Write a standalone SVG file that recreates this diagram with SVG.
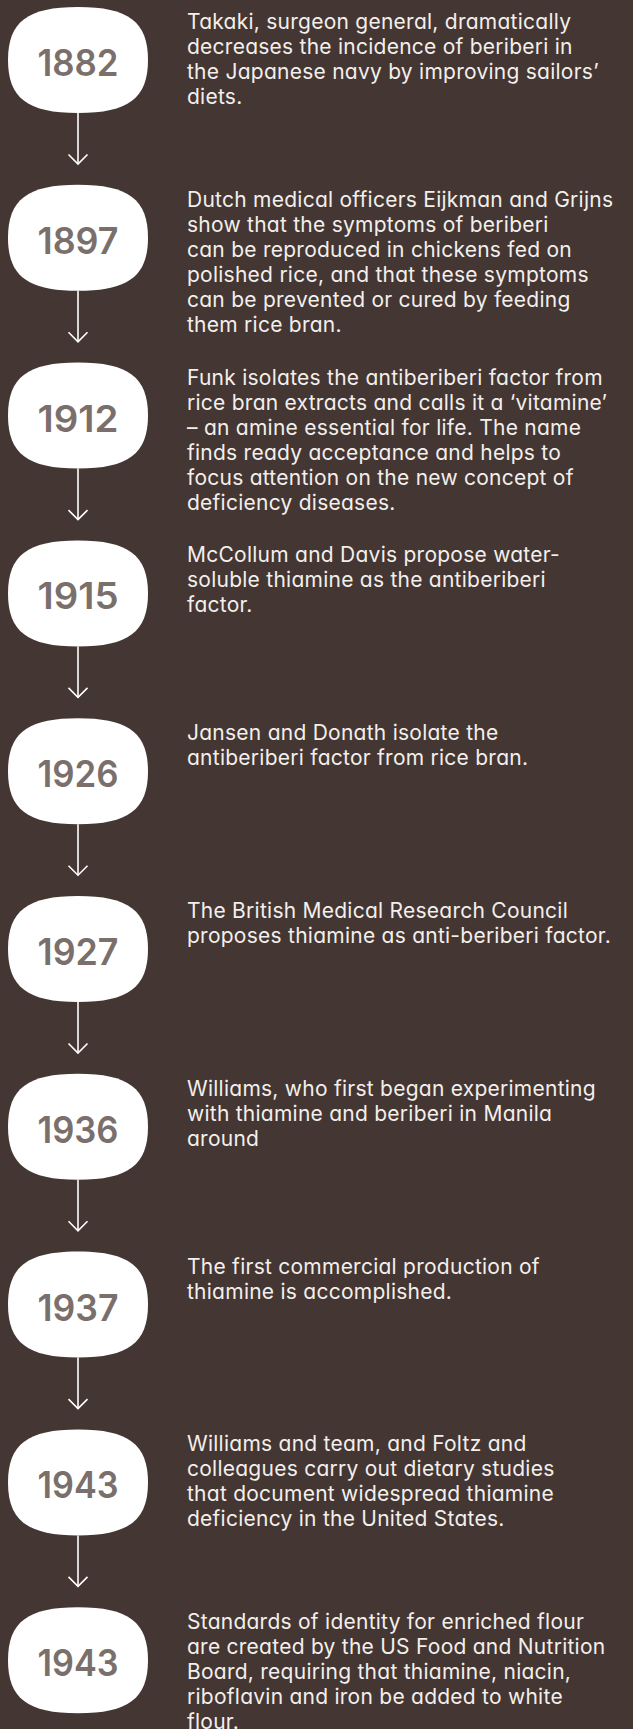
<svg xmlns="http://www.w3.org/2000/svg" width="633" height="1729" viewBox="0 0 633 1729">
<defs>
<style>
.bg{fill:#443632}
.node{fill:#ffffff}
.year{font-family:Inter,"Liberation Sans",sans-serif;font-weight:600;font-size:37px;fill:#7b6f6c;text-anchor:middle}
.body{font-family:Inter,"Liberation Sans",sans-serif;font-size:21px;letter-spacing:0.25px;fill:#f3efec;font-feature-settings:"cv11" 1}
.conn{stroke:#ffffff;stroke-width:1.6;fill:none}
</style>
<path id="sq" d="M78 0C128.4 0 148 14.8 148 53C148 91.2 128.4 106 78 106C27.6 106 8 91.2 8 53C8 14.8 27.6 0 78 0Z"/>
<marker id="ah" viewBox="-12 -12 14 24" markerWidth="14" markerHeight="24" refX="0" refY="0" markerUnits="userSpaceOnUse" orient="auto" overflow="visible">
<path d="M-9.5 -9.5L0 0L-9.5 9.5" stroke="#ffffff" stroke-width="1.6" fill="none"/>
</marker>
</defs>
<rect class="bg" x="0" y="0" width="633" height="1729"/>
<g id="connectors">
<line class="conn" x1="78" y1="113" x2="78" y2="164" marker-end="url(#ah)"/>
<line class="conn" x1="78" y1="290.8" x2="78" y2="341.8" marker-end="url(#ah)"/>
<line class="conn" x1="78" y1="468.6" x2="78" y2="519.6" marker-end="url(#ah)"/>
<line class="conn" x1="78" y1="646.4" x2="78" y2="697.4" marker-end="url(#ah)"/>
<line class="conn" x1="78" y1="824.2" x2="78" y2="875.2" marker-end="url(#ah)"/>
<line class="conn" x1="78" y1="1002" x2="78" y2="1053" marker-end="url(#ah)"/>
<line class="conn" x1="78" y1="1179.8" x2="78" y2="1230.8" marker-end="url(#ah)"/>
<line class="conn" x1="78" y1="1357.6" x2="78" y2="1408.6" marker-end="url(#ah)"/>
<line class="conn" x1="78" y1="1535.4" x2="78" y2="1586.4" marker-end="url(#ah)"/>
</g>
<g id="n1882" transform="translate(0,7)">
<use href="#sq" class="node"/>
<text class="year" x="78" y="69" textLength="81" lengthAdjust="spacingAndGlyphs">1882</text>
<text class="body" x="187" y="22"><tspan x="187">Takaki, surgeon general, dramatically</tspan><tspan x="187" dy="25">decreases the incidence of beriberi in</tspan><tspan x="187" dy="25">the Japanese navy by improving sailors’</tspan><tspan x="187" dy="25">diets.</tspan></text>
</g>
<g id="n1897" transform="translate(0,184.8)">
<use href="#sq" class="node"/>
<text class="year" x="78" y="69" textLength="81" lengthAdjust="spacingAndGlyphs">1897</text>
<text class="body" x="187" y="22"><tspan x="187">Dutch medical officers Eijkman and Grijns</tspan><tspan x="187" dy="25">show that the symptoms of beriberi</tspan><tspan x="187" dy="25">can be reproduced in chickens fed on</tspan><tspan x="187" dy="25">polished rice, and that these symptoms</tspan><tspan x="187" dy="25">can be prevented or cured by feeding</tspan><tspan x="187" dy="25">them rice bran.</tspan></text>
</g>
<g id="n1912" transform="translate(0,362.6)">
<use href="#sq" class="node"/>
<text class="year" x="78" y="69" textLength="81" lengthAdjust="spacingAndGlyphs">1912</text>
<text class="body" x="187" y="22"><tspan x="187">Funk isolates the antiberiberi factor from</tspan><tspan x="187" dy="25">rice bran extracts and calls it a ‘vitamine’</tspan><tspan x="187" dy="25">– an amine essential for life. The name</tspan><tspan x="187" dy="25">finds ready acceptance and helps to</tspan><tspan x="187" dy="25">focus attention on the new concept of</tspan><tspan x="187" dy="25">deficiency diseases.</tspan></text>
</g>
<g id="n1915" transform="translate(0,540.4)">
<use href="#sq" class="node"/>
<text class="year" x="78" y="69" textLength="81" lengthAdjust="spacingAndGlyphs">1915</text>
<text class="body" x="187" y="22"><tspan x="187">McCollum and Davis propose water-</tspan><tspan x="187" dy="25">soluble thiamine as the antiberiberi</tspan><tspan x="187" dy="25">factor.</tspan></text>
</g>
<g id="n1926" transform="translate(0,718.2)">
<use href="#sq" class="node"/>
<text class="year" x="78" y="69" textLength="81" lengthAdjust="spacingAndGlyphs">1926</text>
<text class="body" x="187" y="22"><tspan x="187">Jansen and Donath isolate the</tspan><tspan x="187" dy="25">antiberiberi factor from rice bran.</tspan></text>
</g>
<g id="n1927" transform="translate(0,896)">
<use href="#sq" class="node"/>
<text class="year" x="78" y="69" textLength="81" lengthAdjust="spacingAndGlyphs">1927</text>
<text class="body" x="187" y="22"><tspan x="187">The British Medical Research Council</tspan><tspan x="187" dy="25">proposes thiamine as anti-beriberi factor.</tspan></text>
</g>
<g id="n1936" transform="translate(0,1073.8)">
<use href="#sq" class="node"/>
<text class="year" x="78" y="69" textLength="81" lengthAdjust="spacingAndGlyphs">1936</text>
<text class="body" x="187" y="22"><tspan x="187">Williams, who first began experimenting</tspan><tspan x="187" dy="25">with thiamine and beriberi in Manila</tspan><tspan x="187" dy="25">around</tspan></text>
</g>
<g id="n1937" transform="translate(0,1251.6)">
<use href="#sq" class="node"/>
<text class="year" x="78" y="69" textLength="81" lengthAdjust="spacingAndGlyphs">1937</text>
<text class="body" x="187" y="22"><tspan x="187">The first commercial production of</tspan><tspan x="187" dy="25">thiamine is accomplished.</tspan></text>
</g>
<g id="n1943a" transform="translate(0,1429.4)">
<use href="#sq" class="node"/>
<text class="year" x="78" y="69" textLength="81" lengthAdjust="spacingAndGlyphs">1943</text>
<text class="body" x="187" y="22"><tspan x="187">Williams and team, and Foltz and</tspan><tspan x="187" dy="25">colleagues carry out dietary studies</tspan><tspan x="187" dy="25">that document widespread thiamine</tspan><tspan x="187" dy="25">deficiency in the United States.</tspan></text>
</g>
<g id="n1943b" transform="translate(0,1607.2)">
<use href="#sq" class="node"/>
<text class="year" x="78" y="69" textLength="81" lengthAdjust="spacingAndGlyphs">1943</text>
<text class="body" x="187" y="22"><tspan x="187">Standards of identity for enriched flour</tspan><tspan x="187" dy="25">are created by the US Food and Nutrition</tspan><tspan x="187" dy="25">Board, requiring that thiamine, niacin,</tspan><tspan x="187" dy="25">riboflavin and iron be added to white</tspan><tspan x="187" dy="25">flour.</tspan></text>
</g>
</svg>
